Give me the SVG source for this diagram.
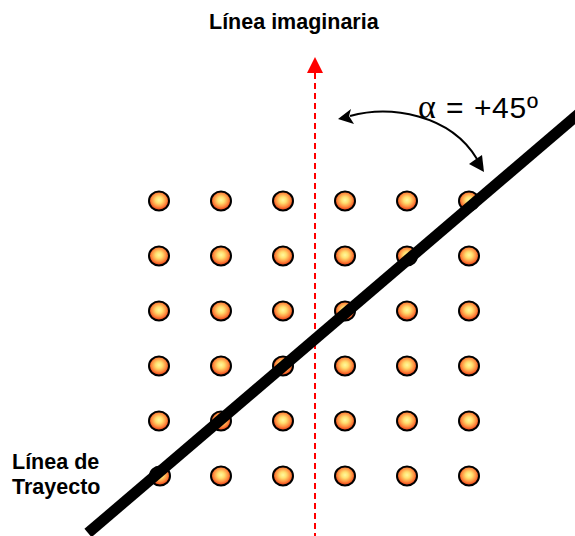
<svg xmlns="http://www.w3.org/2000/svg" width="575" height="536" viewBox="0 0 575 536">
  <style>
    .lbl { font-family: "Liberation Sans", Arial, sans-serif; font-weight: bold; font-size: 21.5px; fill: #000; }
    .ang { font-family: "Liberation Sans", Arial, sans-serif; font-size: 30px; fill: #000; }
    .alpha { font-family: "Liberation Serif", "Times New Roman", serif; font-size: 34px; }
    .dot { fill: url(#dotGrad); stroke: #000; stroke-width: 2; }
  </style>
  <defs>
    <radialGradient id="dotGrad" cx="0.5" cy="0.45" r="0.55">
      <stop offset="0" stop-color="#FFF8A0"/>
      <stop offset="0.3" stop-color="#FFE070"/>
      <stop offset="0.65" stop-color="#FF9040"/>
      <stop offset="1" stop-color="#E83010"/>
    </radialGradient>
  </defs>
  <rect width="575" height="536" fill="#fff"/>

  <text id="lbl-imaginaria" class="lbl" x="209" y="29">Línea imaginaria</text>
  <g id="lbl-trayecto">
    <text class="lbl" x="12" y="469">Línea de</text>
    <text class="lbl" x="12" y="494">Trayecto</text>
  </g>

  <g id="dots">
    <g id="row1">
      <ellipse class="dot" cx="159" cy="201" rx="10" ry="9.4"/>
      <ellipse class="dot" cx="221" cy="201" rx="10" ry="9.4"/>
      <ellipse class="dot" cx="283" cy="201" rx="10" ry="9.4"/>
      <ellipse class="dot" cx="345" cy="201" rx="10" ry="9.4"/>
      <ellipse class="dot" cx="407" cy="201" rx="10" ry="9.4"/>
      <ellipse class="dot" cx="469" cy="201" rx="10" ry="9.4"/>
    </g>
    <g id="row2">
      <ellipse class="dot" cx="159" cy="256" rx="10" ry="9.4"/>
      <ellipse class="dot" cx="221" cy="256" rx="10" ry="9.4"/>
      <ellipse class="dot" cx="283" cy="256" rx="10" ry="9.4"/>
      <ellipse class="dot" cx="345" cy="256" rx="10" ry="9.4"/>
      <ellipse class="dot" cx="407" cy="256" rx="10" ry="9.4"/>
      <ellipse class="dot" cx="469" cy="256" rx="10" ry="9.4"/>
    </g>
    <g id="row3">
      <ellipse class="dot" cx="159" cy="311" rx="10" ry="9.4"/>
      <ellipse class="dot" cx="221" cy="311" rx="10" ry="9.4"/>
      <ellipse class="dot" cx="283" cy="311" rx="10" ry="9.4"/>
      <ellipse class="dot" cx="345" cy="311" rx="10" ry="9.4"/>
      <ellipse class="dot" cx="407" cy="311" rx="10" ry="9.4"/>
      <ellipse class="dot" cx="469" cy="311" rx="10" ry="9.4"/>
    </g>
    <g id="row4">
      <ellipse class="dot" cx="159" cy="366" rx="10" ry="9.4"/>
      <ellipse class="dot" cx="221" cy="366" rx="10" ry="9.4"/>
      <ellipse class="dot" cx="283" cy="366" rx="10" ry="9.4"/>
      <ellipse class="dot" cx="345" cy="366" rx="10" ry="9.4"/>
      <ellipse class="dot" cx="407" cy="366" rx="10" ry="9.4"/>
      <ellipse class="dot" cx="469" cy="366" rx="10" ry="9.4"/>
    </g>
    <g id="row5">
      <ellipse class="dot" cx="159" cy="421" rx="10" ry="9.4"/>
      <ellipse class="dot" cx="221" cy="421" rx="10" ry="9.4"/>
      <ellipse class="dot" cx="283" cy="421" rx="10" ry="9.4"/>
      <ellipse class="dot" cx="345" cy="421" rx="10" ry="9.4"/>
      <ellipse class="dot" cx="407" cy="421" rx="10" ry="9.4"/>
      <ellipse class="dot" cx="469" cy="421" rx="10" ry="9.4"/>
    </g>
    <g id="row6">
      <ellipse class="dot" cx="160" cy="476" rx="10" ry="9.4"/>
      <ellipse class="dot" cx="221" cy="476" rx="10" ry="9.4"/>
      <ellipse class="dot" cx="283" cy="476" rx="10" ry="9.4"/>
      <ellipse class="dot" cx="345" cy="476" rx="10" ry="9.4"/>
      <ellipse class="dot" cx="407" cy="476" rx="10" ry="9.4"/>
      <ellipse class="dot" cx="469" cy="476" rx="10" ry="9.4"/>
    </g>
  </g>

  <g id="connectors">
    <g id="imaginary-line">
      <line x1="315" y1="73" x2="315" y2="536" stroke="#FF0000" stroke-width="2" stroke-dasharray="6 4"/>
      <polygon points="315,57 307,73 323,73" fill="#FF0000"/>
    </g>
    <line id="trajectory" x1="88" y1="533" x2="582" y2="111" stroke="#000" stroke-width="11"/>
    <g id="angle-arc">
      <path d="M350,116 C390,105 450,114 477,159" fill="none" stroke="#000" stroke-width="2"/>
      <polygon points="338,119 351,109 349,116 354,124" fill="#000"/>
      <polygon points="484,172 469,164 476,159 482,155" fill="#000"/>
    </g>
  </g>

  <text id="lbl-angle" class="ang" y="118"><tspan class="alpha" x="418">α</tspan><tspan x="446">=</tspan><tspan x="474">+</tspan><tspan x="492">4</tspan><tspan x="509.5">5</tspan><tspan x="527">º</tspan></text>
</svg>
